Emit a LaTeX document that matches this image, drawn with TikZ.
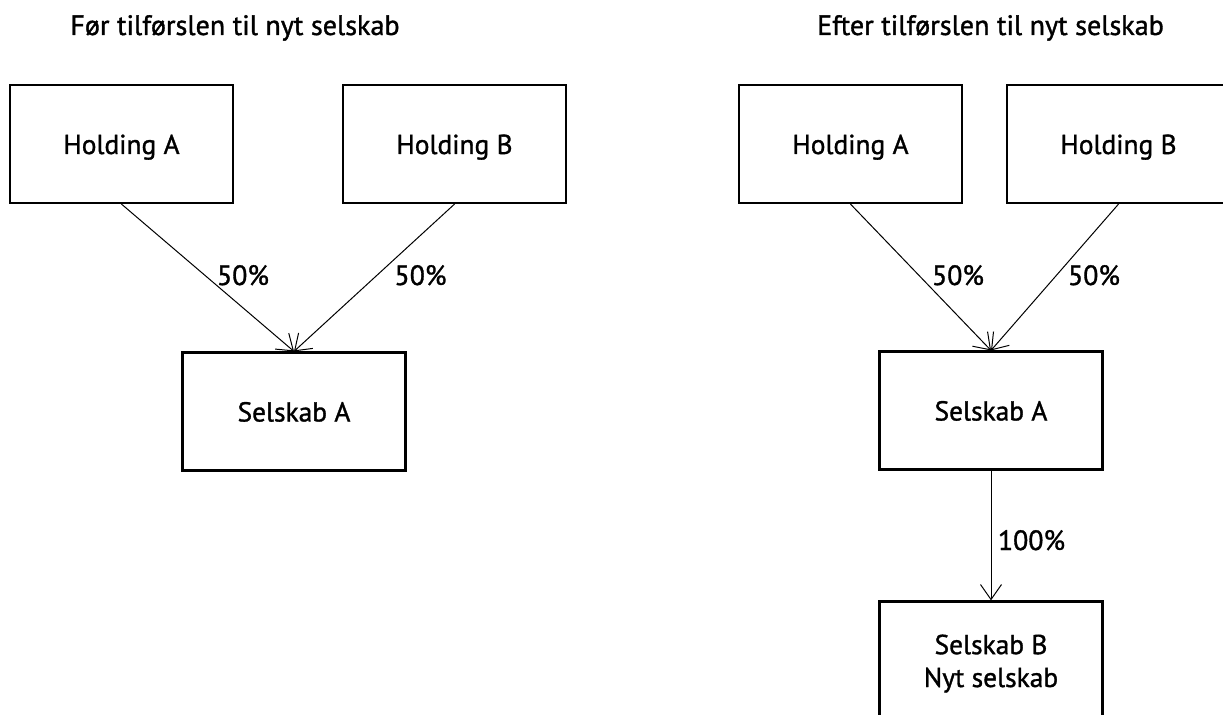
\documentclass[tikz,border=0pt]{standalone}
\usepackage{fontspec}
\setmainfont[FakeBold=1.2]{PT Sans}
\usetikzlibrary{arrows.meta}
\begin{document}
\begin{tikzpicture}[x=1bp,y=-1bp,
  entity/.style={draw, line width=2.2bp, minimum width=223bp, minimum height=118bp,
    inner sep=0pt, align=center, font=\fontsize{27.5}{33}\selectfont,
    text height=20bp, text depth=0bp},
  share/.style={line width=1bp, -{Straight Barb[length=15bp,width=21bp,line width=1bp]}},
  pct/.style={anchor=base, inner sep=0pt, font=\fontsize{28}{33}\selectfont},
  heading/.style={anchor=base, inner sep=0pt, font=\fontsize{28.2}{30}\selectfont}]
  \useasboundingbox (0,0) rectangle (1223,715);
  \clip (0,0) rectangle (1223,715);

  % before the transfer
  \node[heading] (t1) at (235,35) {Før tilførslen til nyt selskab};
  \node[entity] (ha1) at (121.5,144) {Holding A};
  \node[entity] (hb1) at (454.5,144) {Holding B};
  \node[entity] (sa1) at (294,411.5) {Selskab A};
  \draw[share] (ha1.south) -- (sa1.north);
  \draw[share] (hb1.south) -- (sa1.north);
  \node[pct] (p1) at (243,285) {50\%};
  \node[pct] (p2) at (420.5,285) {50\%};

  % after the transfer
  \node[heading] (t2) at (990.5,35) {Efter tilførslen til nyt selskab};
  \node[entity] (ha2) at (850.5,144) {Holding A};
  \node[entity] (hb2) at (1118.5,144) {Holding B};
  \node[entity] (sa2) at (991,410.5) {Selskab A};
  \node[entity, text height=53bp] (sb2) at (991,660.5) {Selskab B\\Nyt selskab};
  \draw[share] (ha2.south) -- (sa2.north);
  \draw[share] (hb2.south) -- (sa2.north);
  \draw[share] (sa2.south) -- (sb2.north);
  \node[pct] (p3) at (958,285) {50\%};
  \node[pct] (p4) at (1094,285) {50\%};
  \node[pct] (p5) at (1031.5,550) {100\%};
\end{tikzpicture}
\end{document}
